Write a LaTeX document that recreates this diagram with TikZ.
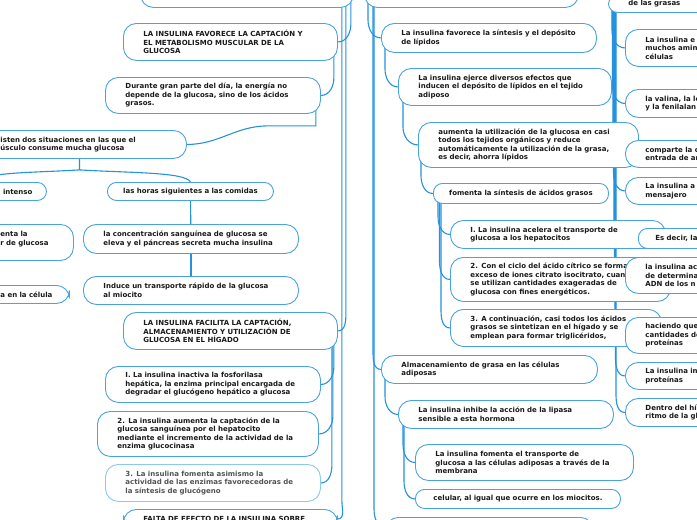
\documentclass[tikz,border=0pt]{standalone}
\usepackage{fontspec}
\setmainfont{DejaVu Sans}
\usetikzlibrary{calc,backgrounds}

\definecolor{mapblue}{RGB}{72,163,224}
\definecolor{paleblue}{RGB}{140,200,240}
\definecolor{lineblue}{RGB}{36,146,222}
\definecolor{ink}{RGB}{26,26,26}
\newcommand{\mapfont}{\fontsize{7}{8.5}\selectfont\bfseries}

\tikzset{
  idea/.style={draw=mapblue, fill=white, line width=0.9pt, rounded corners=13pt,
    anchor=north west, align=left, inner xsep=20pt, inner ysep=0pt,
    font=\mapfont, text=ink},
  pill/.style={idea, rounded corners=9pt, align=center, inner xsep=10pt},
  link/.style={draw=lineblue, line width=1.1pt},
}

\begin{document}
\begin{tikzpicture}[x=1pt,y=-1pt]
\useasboundingbox (0,0) rectangle (697,520);

%left branch
\node[idea, text width=173pt, minimum height=37pt] (A0) at (140,-30) {};
\node[idea, text width=174pt, minimum height=37pt] (A1) at (123,23)
  {LA INSULINA FAVORECE LA CAPTACIÓN Y\\EL METABOLISMO MUSCULAR DE LA\\GLUCOSA};
\node[idea, text width=175pt, minimum height=36pt] (A2) at (105,77)
  {Durante gran parte del día, la energía no\\depende de la glucosa,  sino de los ácidos\\grasos.};
\node[idea, text width=166pt, minimum height=28pt] (A3) at (-20,130)
  {isten dos situaciones en las que el\\úsculo consume mucha glucosa};
\node[pill, align=right, inner xsep=14pt, text width=98pt, minimum height=18pt] (intenso) at (-80,182) {intenso};
\node[pill, text width=146pt, minimum height=18pt] (horas) at (107,182) {las horas siguientes a las comidas};
\node[idea, text width=53pt, minimum height=36pt] (enta) at (-20,224) {enta la\\r de glucosa\\\mbox{}};
\node[idea, align=left, inner xsep=16pt, text width=53pt, minimum height=18pt] (celula) at (-16,285) {a en la célula};
\node[idea, text width=175pt, minimum height=29pt] (conc) at (83,224)
  {la concentración  sanguínea de glucosa se\\eleva y el páncreas secreta mucha insulina};
\node[idea, text width=175pt, minimum height=28pt] (induce) at (83,276)
  {Induce un transporte  rápido de la glucosa\\al miocito};
\node[idea, text width=174pt, minimum height=37pt] (A4) at (123,312)
  {LA INSULINA FACILITA LA CAPTACIÓN,\\ALMACENAMIENTO Y UTILIZACIÓN DE\\GLUCOSA EN EL HÍGADO};
\node[idea, text width=175pt, minimum height=36pt] (A5) at (105,366)
  {I. La insulina inactiva  la fosforilasa\\hepática, la enzima principal  encargada  de\\degradar el glucógeno hepático a glucosa};
\node[idea, text width=181pt, minimum height=45pt] (A6) at (97,411)
  {2. La insulina aumenta la captación de la\\glucosa sanguínea por el hepatocito\\mediante el incremento de la actividad de la\\enzima glucocinasa};
\node[idea, draw=paleblue, text=ink!75, text width=175pt, minimum height=37pt] (A7) at (105,464)
  {3. La insulina fomenta asimismo  la\\actividad de las enzimas favorecedoras de\\la síntesis de glucógeno};
\node[idea, text width=174pt, minimum height=19pt] (A8) at (123,509) {FALTA DE EFECTO DE LA INSULINA SOBRE};

%right branch
\node[idea, text width=174pt, minimum height=37pt] (B0) at (364,-30) {};
\node[idea, text width=175pt, minimum height=29pt] (B1) at (381,23)
  {La insulina favorece la síntesis y el depósito\\de lípidos};
\node[idea, text width=173pt, minimum height=37pt] (B2) at (398,68)
  {La insulina  ejerce diversos  efectos que\\inducen el depósito  de lípidos  en el tejido\\adiposo};
\node[idea, text width=180pt, minimum height=45pt] (B3) at (418,122)
  {aumenta la utilización de la glucosa  en casi\\todos los tejidos orgánicos y reduce\\automáticamente la utilización de la grasa,\\es decir, ahorra lípidos};
\node[pill, text width=155pt, minimum height=20pt] (B4) at (433,183) {fomenta la síntesis de ácidos grasos};
\node[idea, text width=175pt, minimum height=28pt] (B5) at (450,220)
  {I. La insulina  acelera el transporte  de\\glucosa  a los hepatocitos};
\node[idea, text width=180pt, minimum height=44pt] (B6) at (450,257)
  {2. Con el ciclo del ácido cítrico se forma\\exceso de iones citrato  isocitrato, cuando\\se utilizan cantidades  exageradas  de\\glucosa  con fines energéticos.};
\node[idea, text width=171pt, minimum height=37pt] (B7) at (450,309)
  {3. A continuación, casi todos los ácidos\\grasos se sintetizan en el hígado y se\\emplean para formar triglicéridos,};
\node[idea, text width=176pt, minimum height=28pt] (B8) at (381,355)
  {Almacenamiento de grasa en las células\\adiposas};
\node[idea, text width=175pt, minimum height=28pt] (B9) at (398,400)
  {La insulina inhibe la acción de la lipasa\\sensible a esta hormona};
\node[idea, text width=178pt, minimum height=36pt] (B10) at (415,444)
  {La insulina fomenta el transporte de\\glucosa a las células adiposas a través de la\\membrana};
\node[pill, text width=185pt, minimum height=19pt] (B11) at (415,489) {celular, al igual que ocurre  en los miocitos.};
\node[idea, text width=168pt, minimum height=19pt] (B12) at (385,517) {};

%far right column
\node[pill, align=left, inner xsep=20pt, text width=92pt, minimum height=17pt] (B0r) at (608,-5) {de las grasas};
\node[idea, text width=95pt, minimum height=37pt] (C1) at (625,29) {La insulina  e\\muchos amin\\células};
\node[idea, text width=95pt, minimum height=28pt] (C2) at (625,89) {la valina, la le\\y la fenilalan};
\node[idea, text width=95pt, minimum height=27pt] (C3) at (625,140) {comparte la c\\entrada de am};
\node[idea, text width=95pt, minimum height=27pt] (C4) at (625,177) {La insulina  a\\mensajero};
\node[idea, rounded corners=9pt, inner xsep=17pt, text width=95pt, minimum height=20pt] (C5) at (638,228) {Es decir, la};
\node[idea, text width=95pt, minimum height=36pt] (C6) at (625,257) {la insulina ac\\de determina\\ADN de los n};
\node[idea, text width=95pt, minimum height=36pt] (C7) at (625,317) {haciendo que\\cantidades de\\proteínas};
\node[idea, text width=95pt, minimum height=27pt] (C8) at (625,362) {La insulina  in\\proteínas};
\node[idea, text width=95pt, minimum height=28pt] (C9) at (625,398) {Dentro del hí\\ritmo de la gl};

%links
\begin{scope}[on background layer]
\foreach \kid/\dx in {A1/-3,A4/-8,A8/-12}
  \draw[link] ($(A0.south east)+(\dx,-10)$) coordinate (s) -- ($(\kid.east -| s)+(0,-18)$) to[out=-90,in=0] (\kid.east);
\draw[link] ($(A1.south east)+(-4,-10)$) coordinate (s) -- ($(A2.east -| s)+(0,-18)$) to[out=-90,in=0] (A2.east);
\draw[link] ($(A2.south east)+(-5,-10)$) -- ++(0,22) -- ++(-48,0) to[out=180,in=0] (A3.east);
\coordinate (edge) at (-20,0);
\draw[link] ($(A3.south)+(-4,-5)$) -- ++(0,16) coordinate (fork) .. controls +(50,3) and +(-5,-10) .. (horas.north);
\draw[link] (fork) .. controls +(-50,3) and +(5,-10) .. (intenso.north -| edge);
\draw[link] (intenso.south -| edge) -- (enta.north -| edge);
\draw[link] (enta.south -| edge) -- (celula.north -| edge);
\draw[link] (horas) -- (conc);
\draw[link] (conc) -- (induce);
\foreach \kid/\dx in {A5/0,A6/-1,A7/-2}
  \draw[link] ($(A4.south east)+(-4+\dx,-10)$) coordinate (s) -- ($(\kid.east -| s)+(0,-18)$) to[out=-90,in=0] (\kid.east);

\foreach \kid/\dx in {B1/4,B8/9,B12/10}
  \draw[link] ($(B0.south west)+(\dx,-10)$) coordinate (s) -- ($(\kid.west -| s)+(0,-18)$) to[out=-90,in=180] (\kid.west);
\foreach \mom/\kid/\dx in {B1/B2/4,B2/B3/5,B3/B4/3,B8/B9/4}
  \draw[link] ($(\mom.south west)+(\dx,-10)$) coordinate (s) -- ($(\kid.west -| s)+(0,-18)$) to[out=-90,in=180] (\kid.west);
\foreach \kid/\dx in {B5/5,B6/6.5,B7/8}
  \draw[link] ($(B4.south west)+(\dx,-10)$) coordinate (s) -- ($(\kid.west -| s)+(0,-18)$) to[out=-90,in=180] (\kid.west);
\foreach \kid/\dx in {B10/5,B11/6}
  \draw[link] ($(B9.south west)+(\dx,-10)$) coordinate (s) -- ($(\kid.west -| s)+(0,-18)$) to[out=-90,in=180] (\kid.west);
\foreach \kid/\dx in {C1/4,C2/4.5,C3/5,C4/5.5,C5/6,C6/6.5,C7/7,C8/7.5,C9/8}
  \draw[link] ($(B0r.south west)+(\dx,-8)$) coordinate (s) -- ($(\kid.west -| s)+(0,-18)$) to[out=-90,in=180] (\kid.west);
\end{scope}

\end{tikzpicture}
\end{document}
